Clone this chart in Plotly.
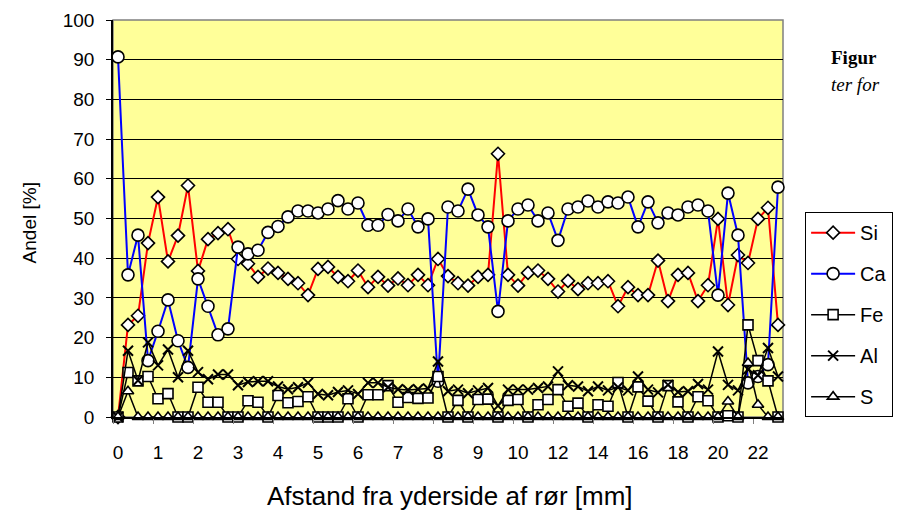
import plotly.graph_objects as go

# category index (67 measurement points) and tick labels (every 4th point)
n_points = 67
x_idx = list(range(n_points))
tick_pos = list(range(0, 65, 4))
tick_labels = ["0", "1", "2", "3", "4", "5", "6", "7", "8", "9",
               "10", "12", "14", "16", "18", "20", "22"]

Si = [0, 23.2, 25.5, 43.8, 55.4, 39.2, 45.7, 58.3, 36.8, 44.8, 46.3, 47.3, 39.8, 38.6, 35.3, 37.4,
      36.3, 34.8, 33.7, 30.7, 37.3, 37.8, 35.3, 34.2, 36.9, 32.7, 35.3, 33.1, 34.9, 33.2, 35.8, 33.2,
      39.8, 35.5, 33.7, 33.1, 35.3, 35.8, 66.3, 35.8, 33.1, 36.3, 36.9, 34.8, 31.6, 34.3, 32.2, 33.7, 33.7,
      34.2, 27.9, 32.7, 30.7, 30.7, 39.4, 29.2, 35.8, 36.3, 29.2, 33.2, 49.9, 28.2, 40.8, 38.8, 49.9, 52.7, 23.2]

Ca = [90.7, 35.8, 45.8, 14.2, 21.6, 29.5, 19.2, 12.5, 34.8, 27.9, 20.7, 22.2, 42.8, 41.1, 42.0, 46.5,
      48.0, 50.4, 51.9, 51.9, 51.4, 52.4, 54.5, 52.4, 53.9, 48.3, 48.3, 51.0, 49.4, 52.4, 47.9, 49.9,
      9.0, 52.9, 51.9, 57.4, 50.9, 47.9, 26.6, 49.4, 52.4, 53.4, 49.4, 51.4, 44.5, 52.4, 52.9, 54.4, 52.9,
      54.2, 53.9, 55.4, 47.9, 54.2, 48.9, 51.4, 50.9, 52.9, 53.4, 51.9, 30.7, 56.4, 45.8, 8.6, 10.2, 13.2, 57.9]

Fe = [0, 11.2, 9.1, 10.2, 4.6, 5.9, 0, 0, 7.5, 3.7, 3.7, 0, 0, 4.1, 3.7, 0,
      5.4, 3.6, 3.9, 5.1, 0, 0, 0, 4.6, 0, 5.6, 5.6, 7.9, 3.7, 4.9, 4.7, 4.8,
      10.2, 0, 4.2, 0, 4.4, 4.5, 0, 4.2, 4.4, 0, 3.1, 4.4, 6.9, 2.7, 3.5, 0, 3.1, 2.7,
      8.7, 0, 7.6, 4.0, 0, 7.9, 3.8, 0, 5.1, 4.1, 0, 0.3, 0, 23.2, 14.2, 9.1, 0]

Al = [0, 16.7, 9.2, 18.8, 13.0, 17.0, 10.0, 16.7, 11.3, 9.5, 10.7, 10.7, 8.0, 8.8, 9.0, 9.0,
      7.7, 7.0, 7.5, 8.6, 5.8, 5.5, 6.3, 6.7, 5.8, 8.6, 8.6, 7.5, 7.0, 6.8, 7.0, 7.2,
      14.0, 6.5, 6.9, 6.0, 6.7, 7.3, 2.8, 6.9, 6.9, 6.9, 7.3, 7.7, 11.5, 8.0, 7.7, 6.5, 7.7, 6.7,
      7.5, 6.7, 10.2, 6.9, 6.2, 8.1, 6.3, 6.5, 8.3, 6.9, 16.5, 8.1, 6.7, 12.0, 10.5, 17.4, 10.2]

S = [0, 6.5, 0, 0, 0, 0, 0, 0, 0, 0, 0, 0, 0, 0, 0, 0,
     0, 0, 0, 0, 0, 0, 0, 0, 0, 0, 0, 0, 0, 0, 0, 0,
     0, 0, 0, 0, 0, 0, 0, 0, 0, 0, 0, 0, 0, 0, 0, 0, 0, 0,
     0, 0, 0, 0, 0, 0, 0, 0, 0, 0, 0, 3.9, 0, 13.6, 3.1, 0, 0]

FONT = "Liberation Sans, Arial, sans-serif"
SERIF = "Liberation Serif, Times New Roman, serif"

series = [
    ("Si", Si, "red", "diamond", 10, 2),
    ("Ca", Ca, "blue", "circle", 12, 2),
    ("Fe", Fe, "black", "square", 10, 1.5),
    ("Al", Al, "black", "x-thin", 10, 1.5),
    ("S", S, "black", "triangle-up", 10, 1.5),
]

fig = go.Figure()
for name, vals, col, sym, size, lw in series:
    if sym == "x-thin":
        marker = dict(symbol=sym, size=size, color="black", line=dict(color="black", width=2))
    else:
        marker = dict(symbol=sym, size=size, color="white", line=dict(color="black", width=1.6))
    fig.add_trace(go.Scatter(
        x=x_idx, y=vals, name=name, mode="lines+markers",
        line=dict(color=col, width=lw), marker=marker,
        legendgroup=name, cliponaxis=False,
    ))

# page body has an 8px default margin, so the figure is sized/offset to compensate
fig.update_layout(
    width=898, height=506, autosize=False,
    margin=dict(l=105, r=123, t=12, b=97, autoexpand=False),
    paper_bgcolor="white", plot_bgcolor="#FFFF99",
    font=dict(family=FONT, size=19, color="black"),
    showlegend=True,
    legend=dict(x=1.033, y=0.516, xanchor="left", yanchor="top",
                bordercolor="black", borderwidth=1, bgcolor="white",
                font=dict(family=FONT, size=20), tracegroupgap=12,
                itemwidth=44),
    shapes=[dict(type="rect", xref="paper", yref="paper", x0=0, x1=1, y0=0, y1=1,
                 line=dict(color="#808080", width=1.5), layer="below")],
    annotations=[
        dict(text="Afstand fra yderside af rør [mm]", xref="paper", yref="paper",
             x=0.503, y=-0.2, xanchor="center", yanchor="middle", showarrow=False,
             font=dict(family=FONT, size=26)),
        dict(text="Andel [%]", xref="paper", yref="paper", x=-0.124, y=0.49,
             xanchor="center", yanchor="middle", textangle=-90, showarrow=False,
             font=dict(family=FONT, size=19)),
        dict(text="<b>Figur</b>", xref="paper", yref="paper", x=1.069, y=0.905,
             xanchor="left", yanchor="middle", showarrow=False,
             font=dict(family=SERIF, size=19)),
        dict(text="<i>ter for</i>", xref="paper", yref="paper", x=1.069, y=0.838,
             xanchor="left", yanchor="middle", showarrow=False,
             font=dict(family=SERIF, size=19)),
    ],
)

fig.update_xaxes(
    automargin=False,
    range=[-0.5, n_points - 0.5], tickmode="array", tickvals=tick_pos, ticktext=tick_labels,
    ticks="outside", ticklen=17, tickcolor="rgba(0,0,0,0)", showgrid=False, zeroline=False,
    showline=True, linecolor="black", linewidth=1.5,
    minor=dict(tick0=-0.5, dtick=4, ticks="outside", ticklen=5, tickcolor="#808080", showgrid=False),
)
fig.update_yaxes(
    automargin=False,
    range=[0, 100], dtick=10, ticks="outside", ticklen=5, tickcolor="black",
    showgrid=True, gridcolor="black", gridwidth=1, zeroline=False,
    showline=True, linecolor="black", linewidth=1.5, ticklabelstandoff=8,
)

fig.write_html("out.html")
